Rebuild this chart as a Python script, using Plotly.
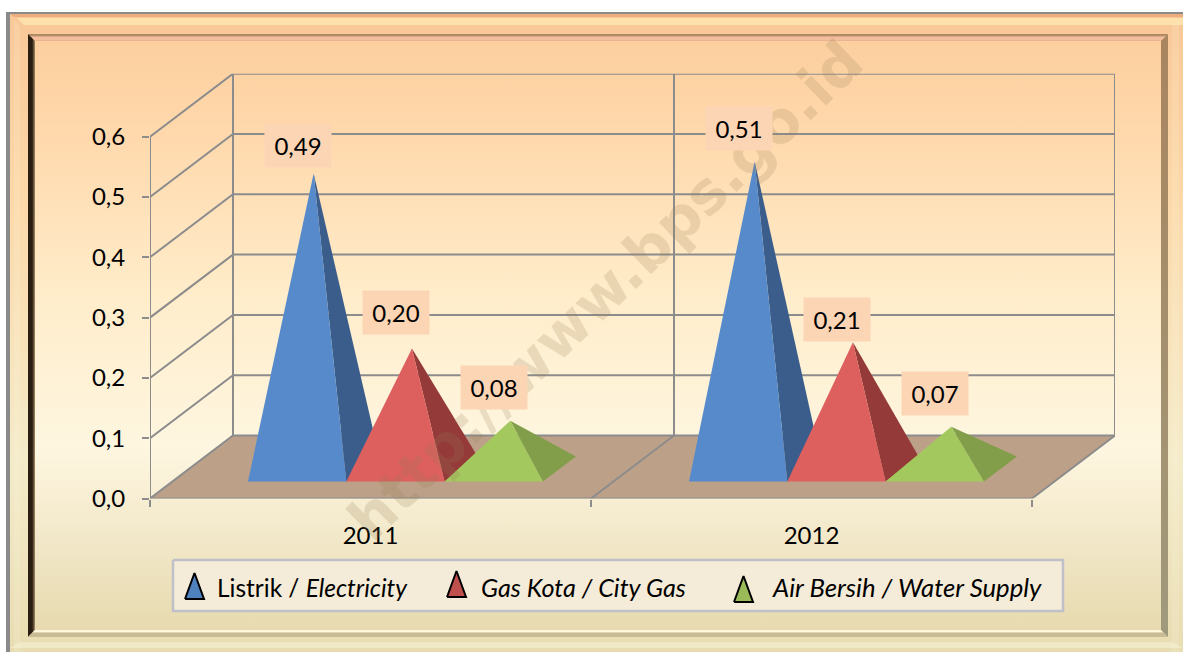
import plotly.graph_objects as go

years = ["2011", "2012"]
series_names = ["Listrik", "Gas Kota", "Air Bersih"]
legend_labels = ["Listrik / <i>Electricity</i>", "<i>Gas Kota / City Gas</i>", "<i>Air Bersih / Water Supply</i>"]
listrik = [0.49, 0.51]
gas_kota = [0.20, 0.21]
air_bersih = [0.08, 0.07]
y_ticks = [0.0, 0.1, 0.2, 0.3, 0.4, 0.5, 0.6]
y_labels = ["0,0", "0,1", "0,2", "0,3", "0,4", "0,5", "0,6"]

FONT = "Lato"
GRID = "#8c8c8c"
FRONT = ["#568acb", "#dd605e", "#a3c85e"]
SIDE = ["#3a5d8c", "#943a39", "#829e4a"]
LEGEND_COL = ["#4f81bd", "#c0504d", "#9bbb59"]
LABEL_LIFT = [[28, 36, 33], [33, 23, 33]]

# 3d box of the chart, in axis units
SCALE = 603
DX = 83 / 441
DY = 63 / SCALE
BAR_X0 = 98 / 441
BAR_W = 98.3 / 441
BAR_Y0 = 17 / SCALE
BAR_DX = 33 / 441
BAR_DY = 25 / SCALE

fig = go.Figure()


def poly(xs, ys, color=None, grad=None, axes=("x", "y"), line=None):
    tr = dict(x=xs + xs[:1], y=ys + ys[:1], mode="lines", fill="toself", hoverinfo="skip",
              showlegend=False, xaxis=axes[0], yaxis=axes[1])
    tr["line"] = line or dict(width=0)
    if grad:
        tr["fillgradient"] = grad
    else:
        tr["fillcolor"] = color
    fig.add_trace(go.Scatter(**tr))


def vgrad(y0, y1, stops):
    return dict(type="vertical", start=y0, stop=y1, colorscale=stops)


# frame
page_stops = [[0, "#fccf9f"], [0.15, "#ffd8ab"], [0.44, "#ffedcb"], [0.69, "#fef6e0"], [0.83, "#f3e9cb"], [1, "#e7daaf"]]
poly([10, 1183, 1183, 10], [14, 14, 652, 652], grad=vgrad(14, 652, [[0, "#f9c797"], [0.3, "#fcd9aa"], [0.7, "#f4ebc9"], [1, "#e8dcb2"]]))
poly([6, 1183, 1183, 10, 10, 6], [12, 12, 14, 14, 652, 652], color="#8a8a8a")
poly([10, 1183, 1183, 14], [14, 14, 17, 17], color="rgba(205,110,60,0.30)")
poly([17, 1183, 1183, 24], [18, 18, 25, 25], color="rgba(255,245,190,0.55)")
poly([14, 20, 20, 14], [20, 26, 652, 652], color="rgba(255,255,235,0.14)")
poly([1172, 1179, 1179, 1172], [26, 20, 652, 652], color="rgba(255,255,235,0.14)")
poly([20, 1172, 1183, 10], [642, 642, 648, 648], color="rgba(255,255,235,0.35)")

poly([35, 1161, 1161, 35], [41, 41, 630, 630], grad=vgrad(41, 630, page_stops))
poly([28, 1168, 1161, 35], [34, 34, 41, 41], grad=vgrad(34, 41, [[0, "#ac8660"], [0.3, "#b89068"], [0.4, "#f4be9d"], [0.9, "#f4be9d"], [1, "#d09a78"]]))
poly([28, 35, 35, 28], [34, 41, 630, 637], grad=dict(type="horizontal", start=28, stop=35, colorscale=[[0, "#2a1e12"], [0.6, "#2a1e12"], [1, "#a58a66"]]))
poly([35, 1161, 1168, 28], [630, 630, 637, 637], grad=vgrad(630, 637, [[0, "#fff8dc"], [0.3, "#fff8dc"], [0.4, "#c9bb94"], [1, "#c9bb94"]]))
poly([1161, 1168, 1168, 1161], [41, 34, 637, 630], grad=vgrad(34, 637, [[0, "#a9855f"], [1, "#a09a7c"]]))

# walls and floor
CH = ("x2", "y2")
TOP = y_ticks[-1]
poly([0, 2, 2 + DX, DX], [0, 0, DY, DY], color="#bda088", axes=CH)


def wall_line(xs, ys):
    fig.add_trace(go.Scatter(x=xs, y=ys, mode="lines", line=dict(color=GRID, width=2), hoverinfo="skip",
                             showlegend=False, xaxis="x2", yaxis="y2"))


for v in y_ticks:
    wall_line([0, DX, 2 + DX], [v, v + DY, v + DY])
wall_line([0, 0], [0, TOP])
wall_line([DX, DX], [DY, TOP + DY])
wall_line([1 + DX, 1 + DX], [DY, TOP + DY])
wall_line([2 + DX, 2 + DX], [DY, TOP + DY])
wall_line([0, 2, 2 + DX], [0, 0, DY])
wall_line([1, 1 + DX], [0, DY])

# pyramids
for g in range(len(years)):
    for s, vals in enumerate([listrik, gas_kota, air_bersih]):
        x0 = g + BAR_X0 + s * BAR_W
        x1 = x0 + BAR_W
        ax = x0 + BAR_W / 2 + BAR_DX / 2
        ay = BAR_Y0 + BAR_DY / 2 + vals[g]
        poly([x1, x1 + BAR_DX, ax], [BAR_Y0, BAR_Y0 + BAR_DY, ay], color=SIDE[s], axes=CH)
        poly([x0, x1, ax], [BAR_Y0, BAR_Y0, ay], color=FRONT[s], axes=CH)

# watermark goes first so the labels sit on it
fig.add_annotation(text="<b>http://www.bps.go.id</b>", x=605 / 1183, y=1 - 291 / 652, xref="paper", yref="paper",
                   showarrow=False, textangle=-44, font=dict(family="DejaVu Sans", size=58, color="rgba(150,125,85,0.20)"))

for g in range(len(years)):
    for s, vals in enumerate([listrik, gas_kota, air_bersih]):
        ax = g + BAR_X0 + s * BAR_W + BAR_W / 2 + BAR_DX / 2
        ay = BAR_Y0 + BAR_DY / 2 + vals[g]
        fig.add_annotation(text=f"{vals[g]:.2f}".replace(".", ","), x=ax, y=ay, xref="x2", yref="y2", xshift=-16,
                           yshift=LABEL_LIFT[g][s], showarrow=False, width=64, height=41, bgcolor="#fcd5b5",
                           font=dict(family=FONT, size=24, color="black"))

# legend box, drawn by hand because the built in symbols cannot be this tall
LG = ("x3", "y3")
poly([173, 1063, 1063, 173], [560, 560, 611, 611], color="#f4ecd8", axes=LG, line=dict(color="#bfc0c8", width=2.5))
for (x0, x1, y0, y1), col in zip([(185, 204, 573, 599), (447, 466, 571, 597), (734, 753, 576, 602)], LEGEND_COL):
    poly([x0, x1, (x0 + x1) / 2], [y1, y1, y0], color=col, axes=LG, line=dict(color="black", width=2))
for x, label, size in zip([215, 479, 770], legend_labels, [24.5, 25.2, 25.7]):
    fig.add_annotation(text=label, x=x, y=587, xref="x3", yref="y3", xanchor="left", showarrow=False,
                       font=dict(family=FONT, size=size, color="black"))

page_axis = dict(domain=[0, 1], range=[0, 1183], visible=False, fixedrange=True)
page_yaxis = dict(domain=[0, 1], range=[652, 0], visible=False, fixedrange=True)
fig.update_layout(
    width=1183, height=652, margin=dict(l=0, r=0, t=0, b=0, pad=0, autoexpand=False),
    paper_bgcolor="white", plot_bgcolor="rgba(0,0,0,0)", showlegend=False, hovermode=False,
    font=dict(family=FONT, size=24, color="black"),
    xaxis=page_axis, yaxis=page_yaxis,
    xaxis3=dict(page_axis, anchor="y3"), yaxis3=dict(page_yaxis, anchor="x3"),
    xaxis2=dict(domain=[150 / 1183, 1115 / 1183], range=[0, 2 + DX], anchor="y2", showgrid=False, zeroline=False,
                tickvals=[0.5, 1.5], ticktext=years, ticks="", ticklabelstandoff=20, fixedrange=True,
                minor=dict(tickvals=[0, 1, 2], ticks="outside", ticklen=7, tickwidth=2, tickcolor=GRID)),
    yaxis2=dict(domain=[1 - 498.5 / 652, 1 - (498.5 - SCALE * (TOP + DY)) / 652], range=[0, TOP + DY], anchor="x2", showgrid=False,
                zeroline=False, tickvals=y_ticks, ticktext=y_labels, ticks="outside", ticklen=7, tickwidth=2,
                tickcolor=GRID, ticklabelstandoff=12, fixedrange=True),
)

fig.write_html("out.html", config=dict(displayModeBar=False),
               post_script="document.body.style.margin='0';document.body.style.overflow='hidden';")
